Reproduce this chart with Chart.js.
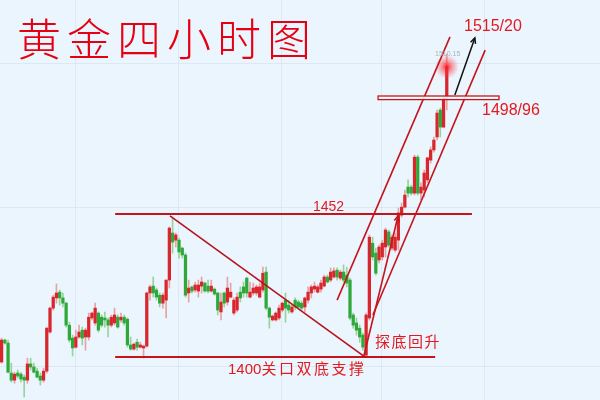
<!DOCTYPE html>
<html>
<head>
<meta charset="utf-8">
<script src="https://cdn.jsdelivr.net/npm/chart.js@4.4.0/dist/chart.umd.min.js"></script>
<style>
  body { margin: 0; background: #ebf5fd; }
  #wrap { position: relative; width: 600px; height: 400px; overflow: hidden; background: #ebf5fd; }
  #chart { position: absolute; left: 0; top: 0; }
  .lbl { position: absolute; color: #e3191f; white-space: nowrap; font-family: "Liberation Sans", Arial, sans-serif; line-height: 1; }
  .cjk { font-family: "Noto Sans CJK SC", sans-serif; }
</style>
</head>
<body>
<div id="wrap">
  <canvas id="chart" width="600" height="400"></canvas>
  <div class="lbl cjk" style="left:17px;top:15px;font-size:44px;font-weight:300;letter-spacing:6px;color:#e60012;">黄金四小时图</div>
  <div class="lbl" style="left:464px;top:18px;font-size:16px;">1515/20</div>
  <div class="lbl" style="left:482px;top:102px;font-size:16px;">1498/96</div>
  <div class="lbl" style="left:313px;top:199px;font-size:14px;">1452</div>
  <div class="lbl" style="left:228px;top:360px;font-size:15px;">1400<span class="cjk" style="letter-spacing:2.5px;">关口双底支撑</span></div>
  <div class="lbl cjk" style="left:375px;top:333px;font-size:15px;letter-spacing:1.5px;">探底回升</div>
  <div class="lbl" style="left:435px;top:50px;font-size:7px;color:#a9b3bd;">1510.15</div>
</div>
<script>
document.addEventListener('DOMContentLoaded', function () {

    // 4小时K线 (开/高/低/收)
    let opens = [
        1398.2, 1406.2, 1405.1, 1394.2, 1391.6, 1394.2, 1393.8, 1392.7, 1391.6, 1397.5,
        1396.4, 1394.9, 1393.1, 1391.6, 1394.9, 1409.1, 1417.8, 1421.5, 1423.6, 1421.5,
        1419.6, 1411.6, 1406.9, 1403.6, 1407.3, 1409.8, 1407.3, 1407.3, 1414.2, 1412.4,
        1416.0, 1414.5, 1414.2, 1413.5, 1411.6, 1412.4, 1414.5, 1413.5, 1414.5, 1413.8,
        1404.4, 1402.9, 1405.4, 1403.6, 1403.3, 1404.0, 1423.3, 1425.8, 1424.4, 1422.5,
        1419.6, 1420.7, 1428.0, 1445.1, 1442.5, 1442.5, 1439.6, 1437.1, 1423.3, 1425.5,
        1424.4, 1424.0, 1425.8, 1426.9, 1425.8, 1424.0, 1424.7, 1423.3, 1416.4, 1423.3,
        1420.0, 1421.8, 1416.0, 1417.1, 1423.6, 1425.5, 1428.7, 1421.8, 1423.3, 1423.3,
        1421.8, 1424.4, 1430.9, 1417.8, 1413.5, 1413.5, 1414.2, 1417.1, 1420.7, 1418.9,
        1416.4, 1420.7, 1420.0, 1419.6, 1418.2, 1420.7, 1423.3, 1424.7, 1423.6, 1424.7,
        1425.8, 1429.1, 1428.0, 1429.1, 1431.6, 1428.7, 1430.9, 1429.8, 1428.0, 1415.3,
        1412.4, 1410.5, 1408.0, 1400.7, 1414.2, 1441.4, 1437.8, 1435.3, 1436.4, 1440.0,
        1445.5, 1439.6, 1438.9, 1442.5, 1451.6, 1454.5, 1461.8, 1461.8, 1459.6, 1472.7,
        1459.6, 1460.7, 1464.4, 1471.6, 1475.3, 1480.0, 1489.8, 1483.6, 1494.2
    ];
    let highs = [
        1406.9, 1406.5, 1406.2, 1397.8, 1394.5, 1395.3, 1394.5, 1393.5, 1399.6, 1399.6,
        1397.8, 1396.0, 1394.2, 1396.0, 1410.9, 1418.2, 1422.5, 1426.6, 1424.4, 1423.3,
        1420.0, 1412.7, 1408.0, 1409.8, 1411.6, 1410.9, 1410.5, 1416.0, 1416.4, 1419.6,
        1416.4, 1415.3, 1416.4, 1414.2, 1415.3, 1417.8, 1415.3, 1416.0, 1415.3, 1414.2,
        1407.3, 1405.1, 1406.5, 1405.4, 1404.4, 1423.6, 1426.2, 1429.1, 1425.1, 1423.3,
        1423.3, 1428.0, 1447.3, 1450.9, 1445.1, 1443.3, 1440.0, 1437.8, 1428.0, 1425.8,
        1427.3, 1428.0, 1429.1, 1427.3, 1428.0, 1428.0, 1425.1, 1423.6, 1423.3, 1423.6,
        1429.1, 1426.9, 1421.5, 1423.3, 1425.5, 1427.3, 1429.1, 1427.3, 1426.9, 1426.2,
        1426.9, 1432.7, 1432.7, 1418.2, 1415.3, 1416.4, 1418.9, 1420.0, 1423.3, 1420.7,
        1418.9, 1421.5, 1420.7, 1420.4, 1421.8, 1425.5, 1426.2, 1427.3, 1426.2, 1428.0,
        1429.8, 1429.8, 1432.4, 1432.4, 1432.4, 1431.6, 1433.5, 1432.7, 1428.7, 1416.0,
        1414.2, 1411.6, 1408.7, 1416.0, 1444.4, 1443.6, 1439.6, 1440.7, 1442.5, 1446.9,
        1446.2, 1444.4, 1445.1, 1454.2, 1456.0, 1460.7, 1464.4, 1462.5, 1473.4, 1473.4,
        1463.3, 1468.0, 1472.7, 1476.4, 1480.0, 1489.8, 1490.5, 1494.5, 1510.2
    ];
    let lows = [
        1397.8, 1404.7, 1394.2, 1390.9, 1390.5, 1392.4, 1390.9, 1385.5, 1390.5, 1395.3,
        1394.2, 1392.4, 1389.8, 1390.9, 1394.2, 1408.7, 1417.1, 1419.6, 1418.9, 1418.2,
        1410.9, 1405.4, 1400.4, 1403.3, 1406.9, 1404.4, 1402.5, 1406.2, 1413.5, 1411.6,
        1409.1, 1410.9, 1410.9, 1407.3, 1410.9, 1411.6, 1410.5, 1412.7, 1411.6, 1403.6,
        1402.5, 1402.5, 1402.5, 1403.3, 1399.6, 1403.6, 1420.7, 1421.8, 1420.7, 1418.2,
        1417.8, 1414.2, 1425.1, 1437.8, 1440.0, 1436.0, 1436.0, 1421.8, 1420.0, 1423.3,
        1423.6, 1421.8, 1423.3, 1423.6, 1423.3, 1423.6, 1422.5, 1415.3, 1413.5, 1418.2,
        1418.9, 1421.5, 1415.3, 1416.4, 1420.0, 1421.8, 1421.8, 1421.5, 1422.5, 1422.5,
        1421.5, 1423.6, 1417.1, 1410.5, 1413.1, 1413.1, 1413.5, 1416.4, 1412.7, 1416.0,
        1416.0, 1417.1, 1417.8, 1417.1, 1416.4, 1419.6, 1421.5, 1423.6, 1423.3, 1423.6,
        1425.5, 1426.9, 1427.3, 1428.7, 1428.0, 1428.0, 1427.3, 1425.5, 1413.5, 1410.5,
        1408.0, 1405.4, 1402.5, 1400.0, 1413.5, 1435.3, 1429.8, 1434.2, 1435.3, 1436.4,
        1440.0, 1438.9, 1438.2, 1438.9, 1450.9, 1454.2, 1458.2, 1458.9, 1458.9, 1458.9,
        1457.1, 1458.2, 1463.3, 1470.5, 1474.5, 1478.9, 1480.0, 1483.3, 1489.8
    ];
    let closes = [
        1406.2, 1405.1, 1394.5, 1391.6, 1393.8, 1393.1, 1392.0, 1391.6, 1397.5, 1396.4,
        1394.5, 1392.7, 1391.6, 1394.9, 1410.5, 1417.8, 1421.8, 1423.3, 1421.5, 1419.6,
        1411.6, 1406.2, 1403.3, 1407.3, 1409.1, 1406.9, 1409.8, 1414.5, 1416.0, 1417.8,
        1409.8, 1411.6, 1413.5, 1411.6, 1414.5, 1415.3, 1410.9, 1414.5, 1412.4, 1404.4,
        1402.9, 1404.7, 1403.6, 1404.4, 1404.0, 1423.3, 1425.5, 1423.3, 1421.8, 1419.6,
        1422.5, 1428.0, 1446.9, 1441.8, 1444.4, 1438.2, 1437.1, 1422.5, 1425.1, 1424.0,
        1426.2, 1426.2, 1427.3, 1424.0, 1424.0, 1425.8, 1422.9, 1417.1, 1420.0, 1419.6,
        1425.1, 1423.6, 1420.7, 1421.8, 1421.5, 1423.3, 1423.3, 1423.6, 1425.1, 1425.5,
        1425.5, 1430.5, 1417.8, 1414.5, 1414.9, 1416.0, 1417.8, 1419.6, 1417.8, 1417.1,
        1418.2, 1418.2, 1418.2, 1417.8, 1421.5, 1423.6, 1425.5, 1425.8, 1425.5, 1426.9,
        1429.1, 1427.3, 1430.9, 1431.3, 1429.1, 1430.9, 1428.0, 1426.9, 1414.2, 1411.6,
        1409.8, 1407.3, 1403.6, 1415.3, 1443.6, 1436.4, 1430.5, 1440.0, 1441.4, 1446.2,
        1440.7, 1443.6, 1443.6, 1452.4, 1454.5, 1458.9, 1459.6, 1459.6, 1472.7, 1459.6,
        1461.8, 1466.9, 1472.4, 1475.3, 1478.9, 1488.7, 1483.6, 1494.2, 1505.5
    ];

    // 右侧留白的空K线位
    let emptySlots = 47;
    let labels = opens.map((o, i) => String(i + 1)).concat(new Array(emptySlots).fill(''));

    // 画线: [起点K线序号, 起点价格, 终点K线序号, 终点价格]
    let level1452 = [35.2, 1452, 145.8, 1452];
    let level1400 = [35.2, 1400, 134.4, 1400];
    let downTrend = [52.2, 1451.3, 112.7, 1400];
    let channelTop = [104.0, 1420.7, 139.0, 1516.4];
    let channelBottom = [115.1, 1415.3, 149.9, 1511.6];
    let reboundArrow = [112.3, 1400.4, 122.9, 1451.3];
    let targetArrow = [140.5, 1495.3, 146.7, 1516.0];
    let resistBox = [116.7, 1494.9, 154.2, 1493.6];
    let lastPrice = [138, 1505.5];

    let upColor = '#d8262c', downColor = '#2fa83a';
    let upWick = '#e8a2a6', downWick = '#98d39c';
    let isUp = opens.map((o, i) => closes[i] >= o);

    let overlay = {
        id: 'overlay',
        beforeDatasetsDraw(chart) {
            let ctx = chart.ctx, x = chart.scales.x, y = chart.scales.y;
            ctx.save();
            ctx.strokeStyle = 'rgba(205,220,235,0.5)';
            ctx.lineWidth = 1;
            [22.8, 54.7, 86.5, 117.5, 149.5].forEach(function (v) {
                let px = Math.round(x.getPixelForValue(v)) + 0.5;
                ctx.beginPath(); ctx.moveTo(px, 0); ctx.lineTo(px, 400); ctx.stroke();
            });
            [1507, 1454.5, 1396.7].forEach(function (v) {
                let py = Math.round(y.getPixelForValue(v)) + 0.5;
                ctx.beginPath(); ctx.moveTo(0, py); ctx.lineTo(600, py); ctx.stroke();
            });
            ctx.restore();
        },
        afterDatasetsDraw(chart) {
            let ctx = chart.ctx, x = chart.scales.x, y = chart.scales.y;
            let pt = (i, p) => [x.getPixelForValue(i), y.getPixelForValue(p)];

            function line(seg, color, width) {
                let a = pt(seg[0], seg[1]), b = pt(seg[2], seg[3]);
                ctx.strokeStyle = color;
                ctx.lineWidth = width;
                ctx.beginPath(); ctx.moveTo(a[0], a[1]); ctx.lineTo(b[0], b[1]); ctx.stroke();
                return [a, b];
            }
            function head(a, b, color) {
                let ang = Math.atan2(b[1] - a[1], b[0] - a[0]);
                ctx.strokeStyle = color;
                ctx.beginPath();
                ctx.moveTo(b[0] - 6 * Math.cos(ang - 0.45), b[1] - 6 * Math.sin(ang - 0.45));
                ctx.lineTo(b[0], b[1]);
                ctx.lineTo(b[0] - 6 * Math.cos(ang + 0.45), b[1] - 6 * Math.sin(ang + 0.45));
                ctx.stroke();
            }

            ctx.save();
            // 最新价光点
            let g = pt(lastPrice[0], lastPrice[1]);
            let grad = ctx.createRadialGradient(g[0], g[1], 0, g[0], g[1], 12);
            grad.addColorStop(0, 'rgba(255,20,30,0.95)');
            grad.addColorStop(0.35, 'rgba(255,40,50,0.55)');
            grad.addColorStop(1, 'rgba(255,80,90,0)');
            ctx.fillStyle = grad;
            ctx.beginPath(); ctx.arc(g[0], g[1], 12, 0, Math.PI * 2); ctx.fill();

            let red = '#c5141c';
            line(level1452, red, 2);
            line(level1400, red, 2);
            line(downTrend, '#b8121a', 1.6);
            line(channelTop, red, 1.6);
            line(channelBottom, red, 1.6);
            let r = line(reboundArrow, red, 1.6);
            head(r[0], r[1], red);
            let t = line(targetArrow, '#111', 1.5);
            head(t[0], t[1], '#111');

            // 1498/96 阻力框
            let b0 = pt(resistBox[0], resistBox[1]), b1 = pt(resistBox[2], resistBox[3]);
            ctx.fillStyle = 'rgba(255,255,255,0.9)';
            ctx.fillRect(b0[0], b0[1], b1[0] - b0[0], b1[1] - b0[1]);
            ctx.strokeStyle = red;
            ctx.lineWidth = 1.3;
            ctx.strokeRect(b0[0], b0[1], b1[0] - b0[0], b1[1] - b0[1]);
            ctx.restore();
        }
    };

    let ctx = document.getElementById('chart').getContext('2d');
    let myChart = new Chart(ctx, {
        type: 'bar',
        data: {
            labels: labels,
            datasets: [{
                label: '实体',
                data: opens.map((o, i) => [o, closes[i]]),
                backgroundColor: isUp.map(u => u ? upColor : downColor),
                barThickness: 2.6,
                minBarLength: 1,
                grouped: false
            }, {
                label: '影线',
                data: lows.map((l, i) => [l, highs[i]]),
                backgroundColor: isUp.map(u => u ? upWick : downWick),
                barThickness: 1,
                grouped: false
            }]
        },
        options: {
            responsive: false,
            animation: false,
            devicePixelRatio: 1,
            layout: { padding: 0 },
            plugins: { legend: { display: false }, tooltip: { enabled: false } },
            scales: {
                x: { display: false, offset: true },
                y: { display: false, min: 1384.4, max: 1529.8 }
            }
        },
        plugins: [overlay]
    });
});
</script>
</body>
</html>
